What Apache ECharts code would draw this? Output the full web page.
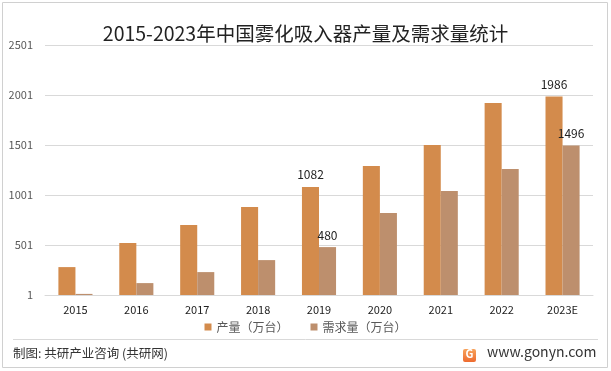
<!DOCTYPE html>
<html><head><meta charset="utf-8">
<script src="https://cdn.jsdelivr.net/npm/echarts@6/dist/echarts.min.js"></script>
<style>html,body{margin:0;padding:0;background:#fff}#c{width:611px;height:371px}</style>
</head><body><div id="c"></div>
<script>
var categories = ['2015','2016','2017','2018','2019','2020','2021','2022','2023E'];
var production = [280, 520, 700, 880, 1082, 1290, 1500, 1920, 1986];
var demand = [12, 120, 230, 350, 480, 820, 1040, 1260, 1496];
var labelIdx = [4, 8];
var yTicks = [1, 501, 1001, 1501, 2001, 2501];

function withLabels(arr){
  return arr.map(function(v,i){
    return labelIdx.indexOf(i) >= 0 ? {value:v, label:{show:true}} : {value:v};
  });
}
var chart = echarts.init(document.getElementById('c'));
var font = '"Noto Sans CJK SC","Noto Sans",sans-serif';
chart.setOption({
  animation:false,
  title:{text:'2015-2023年中国雾化吸入器产量及需求量统计', left:'center', top:19,
    textStyle:{fontSize:19.5, fontWeight:'normal', color:'#222', fontFamily:font}},
  grid:{left:45, right:18, top:45, bottom:76},
  legend:{bottom:33, left:'center', itemWidth:7, itemHeight:7, itemGap:22, icon:'rect',
    textStyle:{fontSize:12, color:'#595959', fontFamily:font}},
  xAxis:{type:'category', data:categories,
    axisLine:{lineStyle:{color:'#d9d9d9'}}, axisTick:{show:false},
    axisLabel:{color:'#222', fontSize:11, margin:9, fontFamily:font}},
  yAxis:{type:'value', min:yTicks[0], max:yTicks[yTicks.length-1], interval:500,
    axisLine:{show:false}, axisTick:{show:false},
    splitLine:{lineStyle:{color:'#d9d9d9'}},
    axisLabel:{color:'#595959', fontSize:11, margin:12, fontFamily:font,
      formatter:function(v){return String(v);}}},
  series:[
    {name:'产量（万台）', type:'bar', data:withLabels(production), barGap:'0%', barCategoryGap:'44%',
      itemStyle:{color:'#D38B4C'},
      label:{show:false, position:'top', color:'#222', fontSize:12, distance:6, fontFamily:font}},
    {name:'需求量（万台）', type:'bar', data:withLabels(demand),
      itemStyle:{color:'#BD8F6D'},
      label:{show:false, position:'top', color:'#222', fontSize:12, distance:6, fontFamily:font}}
  ],
  graphic:[
    {type:'rect', shape:{x:2.5, y:2.5, width:605, height:365}, style:{fill:'none', stroke:'#d0d0d0', lineWidth:1}, silent:true},
    {type:'line', shape:{x1:13, y1:339.5, x2:598, y2:339.5}, style:{stroke:'#d9d9d9', lineWidth:1}},
    {type:'text', left:13, top:347, style:{text:'制图: 共研产业咨询 (共研网)', font:'12.5px '+font, fill:'#333'}},
    {type:'rect', shape:{x:463, y:349, width:13, height:13, r:2}, style:{fill:{type:'linear',x:0,y:0,x2:0,y2:1,colorStops:[{offset:0,color:'#F7A35C'},{offset:1,color:'#EE6B2F'}]}}},
    {type:'text', left:465.5, top:348.5, style:{text:'G', font:'bold 11px '+font, fill:'#fff'}},
    {type:'text', left:487, top:345, style:{text:'www.gonyn.com', font:'14px '+font, fill:'#333'}}
  ]
});
</script></body></html>
